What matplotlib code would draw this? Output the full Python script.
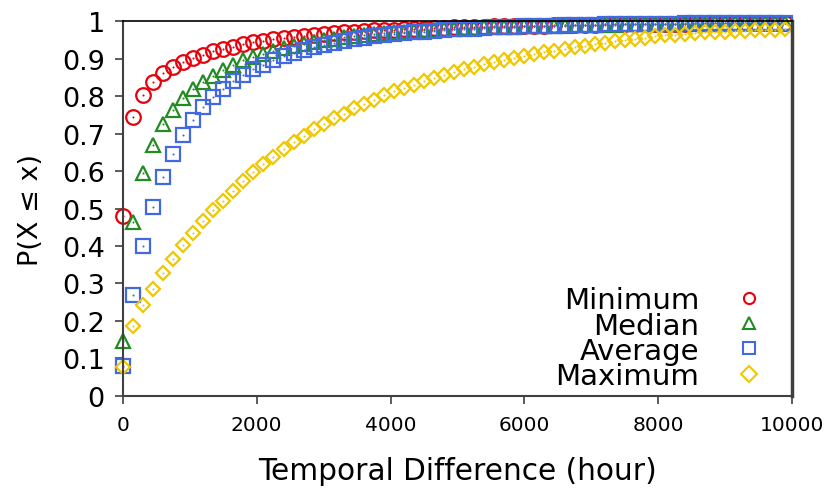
import matplotlib
matplotlib.use("Agg")
import matplotlib.pyplot as plt
import numpy as np

hours = list(range(0, 10000, 150))

minimum = [0.479, 0.746, 0.804, 0.837, 0.861, 0.878, 0.891, 0.902, 0.911, 0.920,
           0.927, 0.933, 0.939, 0.944, 0.948, 0.952, 0.956, 0.959, 0.962, 0.965,
           0.967, 0.969, 0.971, 0.973, 0.974, 0.976, 0.977, 0.978, 0.979, 0.980,
           0.981, 0.982, 0.983, 0.984, 0.985, 0.985, 0.986, 0.987, 0.987, 0.988,
           0.988, 0.989, 0.989, 0.990, 0.990, 0.991, 0.991, 0.991, 0.992, 0.992,
           0.992, 0.993, 0.993, 0.993, 0.994, 0.994, 0.994, 0.995, 0.995, 0.995,
           0.995, 0.996, 0.996, 0.996, 0.996, 0.997, 0.997]

median = [0.145, 0.463, 0.594, 0.671, 0.726, 0.763, 0.795, 0.819, 0.839, 0.855,
          0.871, 0.884, 0.896, 0.905, 0.914, 0.922, 0.929, 0.935, 0.941, 0.946,
          0.950, 0.954, 0.958, 0.961, 0.964, 0.967, 0.969, 0.971, 0.973, 0.975,
          0.977, 0.978, 0.980, 0.981, 0.982, 0.983, 0.984, 0.985, 0.986, 0.986,
          0.987, 0.988, 0.988, 0.989, 0.989, 0.990, 0.990, 0.991, 0.991, 0.991,
          0.992, 0.992, 0.992, 0.993, 0.993, 0.993, 0.994, 0.994, 0.994, 0.995,
          0.995, 0.995, 0.995, 0.996, 0.996, 0.996, 0.996]

average = [0.079, 0.270, 0.401, 0.503, 0.583, 0.646, 0.696, 0.737, 0.771, 0.797,
           0.820, 0.840, 0.857, 0.872, 0.884, 0.896, 0.907, 0.916, 0.924, 0.931,
           0.937, 0.943, 0.948, 0.952, 0.956, 0.960, 0.963, 0.966, 0.969, 0.971,
           0.973, 0.975, 0.977, 0.979, 0.980, 0.981, 0.983, 0.984, 0.985, 0.986,
           0.987, 0.987, 0.988, 0.989, 0.990, 0.990, 0.991, 0.991, 0.992, 0.992,
           0.992, 0.993, 0.993, 0.993, 0.994, 0.994, 0.995, 0.995, 0.995, 0.995,
           0.996, 0.996, 0.996, 0.996, 0.997, 0.997, 0.997]

maximum = [0.077, 0.186, 0.241, 0.286, 0.328, 0.366, 0.402, 0.434, 0.466, 0.495,
           0.521, 0.547, 0.573, 0.597, 0.620, 0.639, 0.659, 0.677, 0.695, 0.712,
           0.727, 0.741, 0.754, 0.768, 0.779, 0.791, 0.803, 0.813, 0.822, 0.831,
           0.840, 0.849, 0.857, 0.865, 0.872, 0.879, 0.886, 0.891, 0.897, 0.903,
           0.908, 0.913, 0.918, 0.922, 0.926, 0.931, 0.935, 0.939, 0.943, 0.947,
           0.951, 0.954, 0.957, 0.960, 0.963, 0.965, 0.967, 0.969, 0.971, 0.972,
           0.973, 0.974, 0.975, 0.976, 0.977, 0.978, 0.980]

series_names = ["Minimum", "Median", "Average", "Maximum"]
x_ticks = [0, 2000, 4000, 6000, 8000, 10000]
y_ticks = [0, 0.1, 0.2, 0.3, 0.4, 0.5, 0.6, 0.7, 0.8, 0.9, 1]
y_tick_labels = ["0", "0.1", "0.2", "0.3", "0.4", "0.5", "0.6", "0.7", "0.8", "0.9", "1"]

plt.rcParams['font.family'] = ['DejaVu Sans']

fig = plt.figure(figsize=(8.25, 4.89), dpi=100)
ax = fig.add_axes([0.149, 0.189, 0.811, 0.765])

styles = [
    dict(marker='o', color='#e8000b', ms=10.5),
    dict(marker='^', color='#228b22', ms=10.5),
    dict(marker='s', color='#4169e1', ms=10.2),
    dict(marker='D', color='#f0c800', ms=7.3),
]
data = [minimum, median, average, maximum]
for name, vals, st in zip(series_names, data, styles):
    ax.plot(hours, vals, linestyle='none', marker=st['marker'], ms=st['ms'],
            mfc='none', mec=st['color'], mew=1.6, clip_on=False, label=name)
    ax.plot(hours, vals, linestyle='none', marker='o', ms=1.5,
            mfc=st['color'], mec='none', clip_on=False)

ax.set_xlim(0, 10000)
ax.set_ylim(0, 1)
ax.set_xticks(x_ticks)
ax.set_xticklabels([str(t) for t in x_ticks], fontsize=14.5)
ax.set_yticks(y_ticks)
ax.set_yticklabels(y_tick_labels, fontsize=19.5)
ax.tick_params(axis='both', direction='out', length=6, width=1.2, color='#404040')
ax.tick_params(axis='x', pad=8)
ax.tick_params(axis='y', pad=7)

for side in ['left', 'bottom']:
    ax.spines[side].set_color('#404040')
    ax.spines[side].set_linewidth(1.5)
ax.spines['right'].set_color('#404040')
ax.spines['right'].set_linewidth(2.5)
ax.spines['top'].set_color('black')
ax.spines['top'].set_linewidth(1.2)

ax.set_xlabel("Temporal Difference (hour)", fontsize=21.3, labelpad=16)
ax.set_ylabel("P(X \u2264 x)", fontsize=19.5, labelpad=13)

leg = ax.legend(loc='lower right', bbox_to_anchor=(0.966, 0.0), frameon=False,
                markerfirst=False, fontsize=21, labelspacing=-0.1,
                handlelength=1.0, handletextpad=1.2, borderpad=0.2,
                borderaxespad=0.0)
for h in leg.legend_handles:
    h.set_markersize(8)
    h.set_markeredgewidth(1.5)

fig.savefig("out.png", dpi=100)
